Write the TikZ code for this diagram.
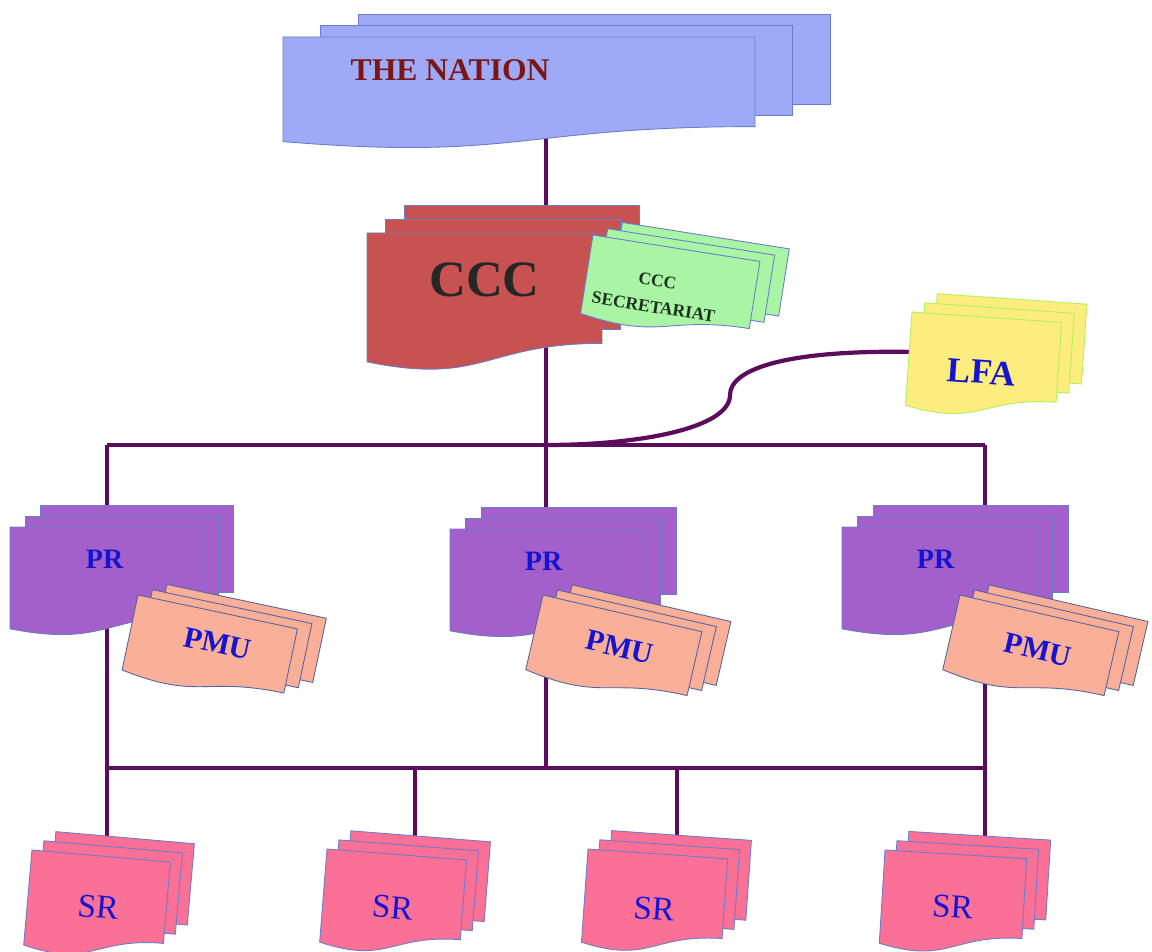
\documentclass[tikz,border=0pt]{standalone}
\usepackage{fontspec}
\setmainfont{Liberation Serif}
\usepackage{tikz}
\usetikzlibrary{calc,backgrounds}
\definecolor{nationblue}{RGB}{158,170,248}
\definecolor{nationtxt}{RGB}{122,22,22}
\definecolor{cccred}{RGB}{200,82,82}
\definecolor{secgreen}{RGB}{170,245,165}
\definecolor{sectxt}{RGB}{25,50,25}
\definecolor{lfayellow}{RGB}{253,236,126}
\definecolor{prpurple}{RGB}{163,95,202}
\definecolor{pmusalmon}{RGB}{250,176,152}
\definecolor{srpink}{RGB}{251,112,150}
\definecolor{edgeblue}{RGB}{105,125,200}
\definecolor{lblblue}{RGB}{20,20,210}
\definecolor{linkpurple}{RGB}{92,12,92}

% three stacked pages: name, front top-left, width, height, angle, page style, label pos, label style, label
\newcommand{\multidoc}[9]{%
  \begin{scope}[shift={(#2)}, rotate=#5]
    \begin{scope}[xscale=#3, yscale=#4]
      \foreach \k in {2,1}
        \filldraw[#6] (\k*0.08,-\k*0.1) rectangle ++(1,0.8);
      \filldraw[#6] (0,0) -- (1,0) -- (1,0.8)
        .. controls (0.5,0.8) and (0.5,1.107) .. (0,0.934) -- cycle;
      \coordinate (#1-w) at (0,0.4);
      \path (#7) node[rotate=#5, #8] (#1) {#9};
    \end{scope}
  \end{scope}}

\begin{document}
\begin{tikzpicture}[
  x=0.02cm, y=-0.02cm,
  pagebox/.style={draw=edgeblue, line width=0.5pt},
  nationpg/.style={pagebox, fill=nationblue},
  cccpg/.style={pagebox, fill=cccred},
  secpg/.style={pagebox, fill=secgreen},
  lfapg/.style={pagebox, draw=lfayellow!70!green, fill=lfayellow},
  prpg/.style={pagebox, fill=prpurple},
  pmupg/.style={pagebox, draw=edgeblue!80!black, fill=pmusalmon},
  srpg/.style={pagebox, fill=srpink},
  lbl/.style={inner sep=0pt, text=lblblue, font=\bfseries\fontsize{17}{19}\selectfont},
  link/.style={draw=linkpurple, line width=1.9pt}
]
  \useasboundingbox (0,0) rectangle (1152,952);

  \multidoc{nation}{283,37}{472}{112}{0}{nationpg}{0.354,0.3}
    {inner sep=0pt, text=nationtxt, font=\bfseries\fontsize{18}{20}\selectfont}{THE NATION}
  \multidoc{ccc}{367,233}{235}{138}{0}{cccpg}{0.5,0.34}
    {inner sep=0pt, text=black!85, font=\bfseries\fontsize{29}{32}\selectfont}{CCC}
  \multidoc{sec}{593,235}{169}{85}{-9}{secpg}{0.42,0.57}
    {inner sep=0pt, align=center, text=sectxt, font=\bfseries\fontsize{10}{15}\selectfont}{CCC\\SECRETARIAT}
  \multidoc{lfa}{912,312}{150}{100}{-4}{lfapg}{0.49,0.55}
    {lbl, font=\bfseries\fontsize{20}{22}\selectfont}{LFA}

  \multidoc{pr1}{10,527}{193}{109}{0}{prpg}{0.49,0.3}{lbl, font=\bfseries\fontsize{16}{18}\selectfont}{PR}
  \multidoc{pmu1}{138,595}{163}{82}{-12}{pmupg}{0.54,0.38}{lbl}{PMU}
  \multidoc{pr2}{450,529}{195}{109}{0}{prpg}{0.48,0.3}{lbl, font=\bfseries\fontsize{16}{18}\selectfont}{PR}
  \multidoc{pmu2}{543,595}{163}{82}{-13}{pmupg}{0.53,0.41}{lbl}{PMU}
  \multidoc{pr3}{842,527}{195}{109}{0}{prpg}{0.48,0.3}{lbl, font=\bfseries\fontsize{16}{18}\selectfont}{PR}
  \multidoc{pmu3}{960,595}{163}{82}{-13}{pmupg}{0.54,0.44}{lbl}{PMU}

  \multidoc{sr1}{32,850}{139}{102}{-5}{srpg}{0.51,0.5}{lbl, font=\fontsize{19}{21}\selectfont}{SR}
  \multidoc{sr2}{327,849}{140}{100}{-4.5}{srpg}{0.5,0.53}{lbl, font=\fontsize{19}{21}\selectfont}{SR}
  \multidoc{sr3}{588,849}{140}{100}{-4}{srpg}{0.5,0.55}{lbl, font=\fontsize{19}{21}\selectfont}{SR}
  \multidoc{sr4}{885,850}{142}{100}{-3.5}{srpg}{0.5,0.53}{lbl, font=\fontsize{19}{21}\selectfont}{SR}

  % bus junctions
  \coordinate (b1) at (107,445);
  \coordinate (b2) at (546,445);
  \coordinate (b3) at (985,445);
  \coordinate (c1) at (107,768);
  \coordinate (c2) at (415,768);
  \coordinate (c3) at (546,768);
  \coordinate (c4) at (677,768);
  \coordinate (c5) at (985,768);

  \begin{scope}[on background layer]
    \draw[link] (b2 |- nation) -- (b2 |- ccc);
    \draw[link] (b2 |- ccc) -- (b2);
    \draw[link] (b1) -- (b3);
    \draw[link, line width=2.4pt] (lfa-w) .. controls (790,350) and (730,368) .. (730,395)
      .. controls (730,428) and (640,445) .. (b2);
    \draw[link] (b1) -- (b1 |- pr1);
    \draw[link] (b2) -- (b2 |- pr2);
    \draw[link] (b3) -- (b3 |- pr3);
    \draw[link] (c1 |- pr1) -- (c1);
    \draw[link] (c3 |- pr2) -- (c3);
    \draw[link] (c5 |- pr3) -- (c5);
    \draw[link] (c1) -- (c5);
    \draw[link] (c1) -- (c1 |- sr1);
    \draw[link] (c2) -- (c2 |- sr2);
    \draw[link] (c4) -- (c4 |- sr3);
    \draw[link] (c5) -- (c5 |- sr4);
  \end{scope}
\end{tikzpicture}
\end{document}
